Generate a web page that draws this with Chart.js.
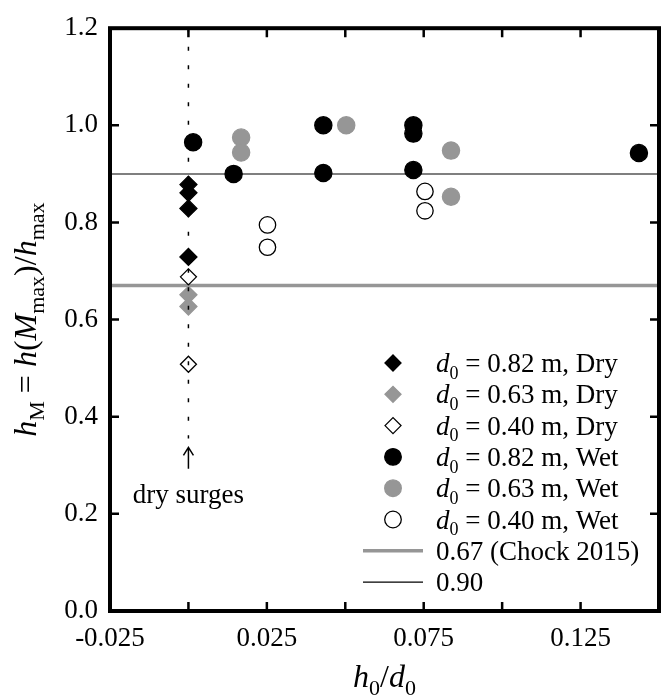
<!DOCTYPE html>
<html>
<head>
<meta charset="utf-8">
<script src="https://cdn.jsdelivr.net/npm/chart.js@4"></script>
<style>
  html, body { margin: 0; padding: 0; background: #fff; }
  #wrap { width: 671px; height: 696px; }
</style>
</head>
<body>
<div id="wrap"><canvas id="c" width="671" height="696"></canvas></div>
<script>
// ---- data ----
const dry082X = [0, 0, 0, 0];
const dry082Y = [0.878, 0.861, 0.829, 0.729];
const dry063X = [0, 0];
const dry063Y = [0.651, 0.627];
const dry040X = [0, 0];
const dry040Y = [0.688, 0.508];
const wet082X = [0.0015, 0.0144, 0.043, 0.043, 0.0717, 0.0717, 0.0717, 0.1436];
const wet082Y = [0.965, 0.900, 1.0, 0.902, 1.0, 0.983, 0.908, 0.943];
const wet063X = [0.0168, 0.0168, 0.0503, 0.0837, 0.0837];
const wet063Y = [0.975, 0.944, 1.0, 0.948, 0.853];
const wet040X = [0.0252, 0.0252, 0.0754, 0.0754];
const wet040Y = [0.795, 0.749, 0.864, 0.824];
const chockX = [-0.025, 0.15];
const chockY = [0.67, 0.67];
const ref90X = [-0.025, 0.15];
const ref90Y = [0.90, 0.90];
const dryLineX = [0, 0];
const dryLineY = [1.2, 0.355];
const xTickLabels = ['-0.025', '0.025', '0.075', '0.125'];
const legendLabels = ['0.82 m, Dry', '0.63 m, Dry', '0.40 m, Dry', '0.82 m, Wet', '0.63 m, Wet', '0.40 m, Wet'];

const GRAY = '#969696';
const SERIF = '"Liberation Serif", "Times New Roman", serif';
const FS = 27;   // tick labels, legend, annotation
const TFS = 32;  // axis titles

function pts(xs, ys) { return xs.map((x, i) => ({ x: x, y: ys[i] })); }

function drawRuns(ctx, runs, x, y, size, align) {
  const fonts = runs.map(r => {
    const s = r.sub ? Math.round(size * 0.68) : size;
    return (r.it ? 'italic ' : '') + s + 'px ' + SERIF;
  });
  let total = 0;
  const widths = runs.map((r, i) => { ctx.font = fonts[i]; const w = ctx.measureText(r.t).width; total += w; return w; });
  let cx = align === 'center' ? x - total / 2 : x;
  ctx.textBaseline = 'alphabetic';
  ctx.textAlign = 'left';
  runs.forEach((r, i) => {
    ctx.font = fonts[i];
    ctx.fillText(r.t, cx, y + (r.sub ? size * 0.25 : 0));
    cx += widths[i];
  });
}

const framePlugin = {
  id: 'framePlugin',
  afterDraw(chart) {
    const ctx = chart.ctx;
    const a = chart.chartArea;
    const xs = chart.scales.x, ys = chart.scales.y;
    ctx.save();
    ctx.strokeStyle = '#000';
    // ticks (inward)
    ctx.lineWidth = 2.5;
    ctx.beginPath();
    xs.ticks.forEach(t => {
      const px = xs.getPixelForValue(t.value);
      if (px <= a.left + 1 || px >= a.right - 1) return;
      ctx.moveTo(px, a.bottom); ctx.lineTo(px, a.bottom - 9);
      ctx.moveTo(px, a.top); ctx.lineTo(px, a.top + 9);
    });
    ys.ticks.forEach(t => {
      const py = ys.getPixelForValue(t.value);
      if (py <= a.top + 1 || py >= a.bottom - 1) return;
      ctx.moveTo(a.left, py); ctx.lineTo(a.left + 9, py);
      ctx.moveTo(a.right, py); ctx.lineTo(a.right - 9, py);
    });
    ctx.stroke();
    // frame
    ctx.lineWidth = 4;
    ctx.strokeRect(a.left, a.top, a.right - a.left, a.bottom - a.top);

    ctx.fillStyle = '#000';
    // dry surges annotation
    const x0 = xs.getPixelForValue(0);
    const yTip = ys.getPixelForValue(0.337);
    const yTail = ys.getPixelForValue(0.293);
    ctx.lineWidth = 1.5;
    ctx.beginPath();
    ctx.moveTo(x0, yTail); ctx.lineTo(x0, yTip);
    ctx.moveTo(x0 - 5, yTip + 8); ctx.lineTo(x0, yTip); ctx.lineTo(x0 + 5, yTip + 8);
    ctx.stroke();
    ctx.font = FS + 'px ' + SERIF;
    ctx.textAlign = 'center';
    ctx.textBaseline = 'alphabetic';
    ctx.fillText('dry surges', x0, yTail + 34);

    // axis titles
    drawRuns(ctx, [{t:'h', it:true}, {t:'0', sub:true}, {t:'/'}, {t:'d', it:true}, {t:'0', sub:true}],
      (a.left + a.right) / 2, 687, TFS, 'center');
    ctx.save();
    ctx.translate(36, (a.top + a.bottom) / 2);
    ctx.rotate(-Math.PI / 2);
    drawRuns(ctx, [{t:'h', it:true}, {t:'M', sub:true}, {t:' = '}, {t:'h', it:true}, {t:'('}, {t:'M', it:true},
      {t:'max', sub:true}, {t:')/'}, {t:'h', it:true}, {t:'max', sub:true}], 0, 0, TFS, 'center');
    ctx.restore();

    // legend
    const lx = 393, tx = 436, ly0 = 363, dy = 31.3;
    const marks = [
      {s:'d', fill:'#000', stroke:'#000'},
      {s:'d', fill:GRAY, stroke:GRAY},
      {s:'d', fill:'rgba(0,0,0,0)', stroke:'#000'},
      {s:'c', fill:'#000', stroke:'#000'},
      {s:'c', fill:GRAY, stroke:GRAY},
      {s:'c', fill:'#fff', stroke:'#000'}
    ];
    marks.forEach((m, i) => {
      const y = ly0 + i * dy;
      ctx.beginPath();
      if (m.s === 'd') {
        const r = 8;
        ctx.moveTo(lx - r, y); ctx.lineTo(lx, y - r); ctx.lineTo(lx + r, y); ctx.lineTo(lx, y + r); ctx.closePath();
      } else {
        ctx.arc(lx, y, 8.3, 0, Math.PI * 2);
      }
      ctx.fillStyle = m.fill; ctx.fill();
      ctx.lineWidth = 1.3; ctx.strokeStyle = m.stroke; ctx.stroke();
      ctx.fillStyle = '#000';
      drawRuns(ctx, [{t:'d', it:true}, {t:'0', sub:true}, {t:' = ' + legendLabels[i]}], tx, y + 9, FS, 'left');
    });
    let y = ly0 + 6 * dy;
    ctx.strokeStyle = GRAY; ctx.lineWidth = 3.5;
    ctx.beginPath(); ctx.moveTo(363, y); ctx.lineTo(423, y); ctx.stroke();
    ctx.fillStyle = '#000';
    drawRuns(ctx, [{t:'0.67 (Chock 2015)'}], tx, y + 9, FS, 'left');
    y = ly0 + 7 * dy;
    ctx.strokeStyle = '#000'; ctx.lineWidth = 1.2;
    ctx.beginPath(); ctx.moveTo(363, y); ctx.lineTo(423, y); ctx.stroke();
    drawRuns(ctx, [{t:'0.90'}], tx, y + 9, FS, 'left');
    ctx.restore();
  }
};

const mk = (label, xs, ys, style, bg, border, r) => ({
  label, data: pts(xs, ys), pointStyle: style, pointRadius: r, pointHoverRadius: r,
  backgroundColor: bg, borderColor: border, pointBorderWidth: 1.3, showLine: false
});

new Chart(document.getElementById('c'), {
  type: 'scatter',
  data: {
    datasets: [
      { type: 'line', label: 'dry', data: pts(dryLineX, dryLineY), borderColor: '#000', borderWidth: 1.5,
        borderDash: [4, 14.5], pointRadius: 0, fill: false },
      mk('d0 = 0.82 m, Dry', dry082X, dry082Y, 'rectRot', '#000', '#000', 8.5),
      mk('d0 = 0.63 m, Dry', dry063X, dry063Y, 'rectRot', GRAY, GRAY, 8.5),
      mk('d0 = 0.40 m, Dry', dry040X, dry040Y, 'rectRot', 'rgba(0,0,0,0)', '#000', 8),
      mk('d0 = 0.82 m, Wet', wet082X, wet082Y, 'circle', '#000', '#000', 8.6),
      mk('d0 = 0.63 m, Wet', wet063X, wet063Y, 'circle', GRAY, GRAY, 8.6),
      mk('d0 = 0.40 m, Wet', wet040X, wet040Y, 'circle', '#fff', '#000', 8.2),
      { type: 'line', label: '0.90', data: pts(ref90X, ref90Y), borderColor: '#555', borderWidth: 1.5, pointRadius: 0, fill: false },
      { type: 'line', label: '0.67 (Chock 2015)', data: pts(chockX, chockY), borderColor: GRAY, borderWidth: 3.5, pointRadius: 0, fill: false }
    ]
  },
  options: {
    responsive: false,
    animation: false,
    layout: { padding: { left: 0, top: 22, right: 10, bottom: 0 } },
    plugins: { legend: { display: false }, tooltip: { enabled: false } },
    scales: {
      x: {
        type: 'linear', min: -0.025, max: 0.15,
        grid: { display: false, drawTicks: false }, border: { display: false },
        ticks: {
          stepSize: 0.025, autoSkip: false, maxRotation: 0, padding: 12, color: '#000',
          font: { family: SERIF, size: FS },
          callback: (v) => { const s = (Math.round(v * 1000) / 1000).toFixed(3); return xTickLabels.includes(s) ? s : ''; }
        },
        afterFit: (s) => { s.height = 85; }
      },
      y: {
        type: 'linear', min: 0, max: 1.2,
        grid: { display: false, drawTicks: false }, border: { display: false },
        ticks: {
          stepSize: 0.2, padding: 12, color: '#000',
          font: { family: SERIF, size: FS },
          callback: (v) => (Math.round(v * 10) / 10).toFixed(1)
        },
        afterFit: (s) => { s.width = 110; }
      }
    }
  },
  plugins: [framePlugin]
});
</script>
</body>
</html>
